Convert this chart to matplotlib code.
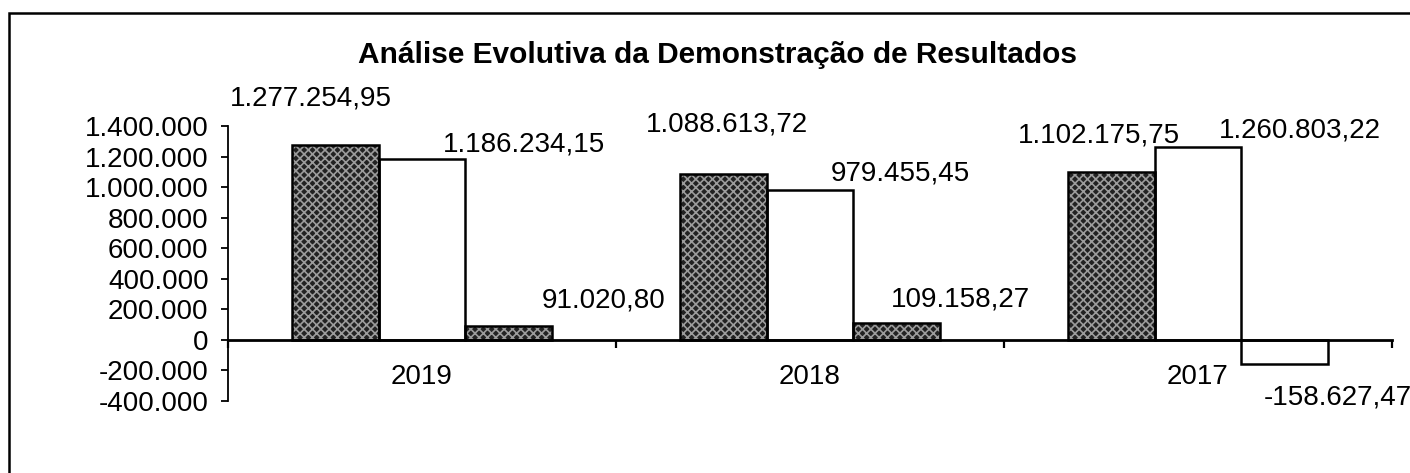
import numpy as np
import matplotlib
matplotlib.use("Agg")
import matplotlib.pyplot as plt
from matplotlib.patches import Rectangle
from matplotlib.ticker import FixedLocator, FuncFormatter

plt.rcParams["font.family"] = ["Liberation Sans", "DejaVu Sans"]
plt.rcParams["hatch.linewidth"] = 1.2

# data
years = ["2019", "2018", "2017"]
receita = [1277254.95, 1088613.72, 1102175.75]
custos = [1186234.15, 979455.45, 1260803.22]
resultado = [91020.80, 109158.27, -158627.47]

# label offsets from bar end, in pixels (layout only)
label_offsets = [
    [(-24, 46), (4, 49), (-12, 36)],
    [(102, 14), (90, 17), (102, 17)],
    [(95, 25), (64, 24), (53, -33)],
]


def fmt_br(v, decimals=2):
    s = f"{abs(v):,.{decimals}f}"
    s = s.replace(",", "X").replace(".", ",").replace("X", ".")
    return ("-" if v < 0 else "") + s


W, H = 1410, 473
fig = plt.figure(figsize=(W / 100, H / 100), dpi=100)
ax = fig.add_axes([228 / W, 1 - 401 / H, 1164 / W, 275 / H])

x = np.arange(len(years))
width = 0.224
dark = "#222222"
stipple = "#9c9c9c"

series = [receita, custos, resultado]
for i, vals in enumerate(series):
    pos = x + (i - 1) * width
    vals = np.array(vals)
    if i == 1:
        faces = ["white"] * len(vals)
    else:
        # negative values are drawn inverted (white), like in the source
        faces = [dark if v >= 0 else "white" for v in vals]
    for p, v, fc in zip(pos, vals, faces):
        if fc == dark:
            ax.bar(p, v, width, color=dark, edgecolor=stipple, hatch="xxxx",
                   linewidth=0, zorder=2)
        else:
            ax.bar(p, v, width, color="white", linewidth=0, zorder=2)
        ax.bar(p, v, width, fill=False, edgecolor="black", linewidth=1.8, zorder=3)
    for j, (p, v) in enumerate(zip(pos, vals)):
        dx, dy = label_offsets[i][j]
        ax.annotate(fmt_br(v), xy=(p, v), xytext=(dx, dy),
                    textcoords="offset pixels", ha="center", va="center",
                    fontsize=20, zorder=4)

ax.set_ylim(-400000, 1400000)
ax.set_xlim(-0.5, len(years) - 0.5)
ax.set_yticks(np.arange(-400000, 1400001, 200000))
ax.yaxis.set_major_formatter(FuncFormatter(lambda v, _: fmt_br(v, 0)))

ax.xaxis.set_major_locator(FixedLocator(np.arange(-0.5, len(years), 1.0)))
ax.xaxis.set_minor_locator(FixedLocator(x))
ax.xaxis.set_major_formatter(FuncFormatter(lambda v, _: ""))
ax.set_xticklabels(years, minor=True)
ax.tick_params(axis="x", which="major", direction="out", length=6, width=1.6)
ax.tick_params(axis="x", which="minor", length=0, pad=17, labelsize=20)
ax.tick_params(axis="y", direction="out", length=5, width=1.3, pad=9, labelsize=20)

ax.spines["top"].set_visible(False)
ax.spines["right"].set_visible(False)
ax.spines["bottom"].set_position(("data", 0))
ax.spines["bottom"].set_linewidth(2.0)
ax.spines["left"].set_linewidth(1.3)
ax.spines["bottom"].set_zorder(5)

fig.text(718 / W, 1 - 55 / H, "Análise Evolutiva da Demonstração de Resultados",
         ha="center", va="center", fontsize=21.5, fontweight="bold")

# outer chart frame, cut by the image edges as in the scan
fig.add_artist(Rectangle((9 / W, -0.2), 1.2, 1.2 - 13 / H, transform=fig.transFigure,
                         fill=False, edgecolor="black", linewidth=1.8))

fig.savefig("out.png", dpi=100)
